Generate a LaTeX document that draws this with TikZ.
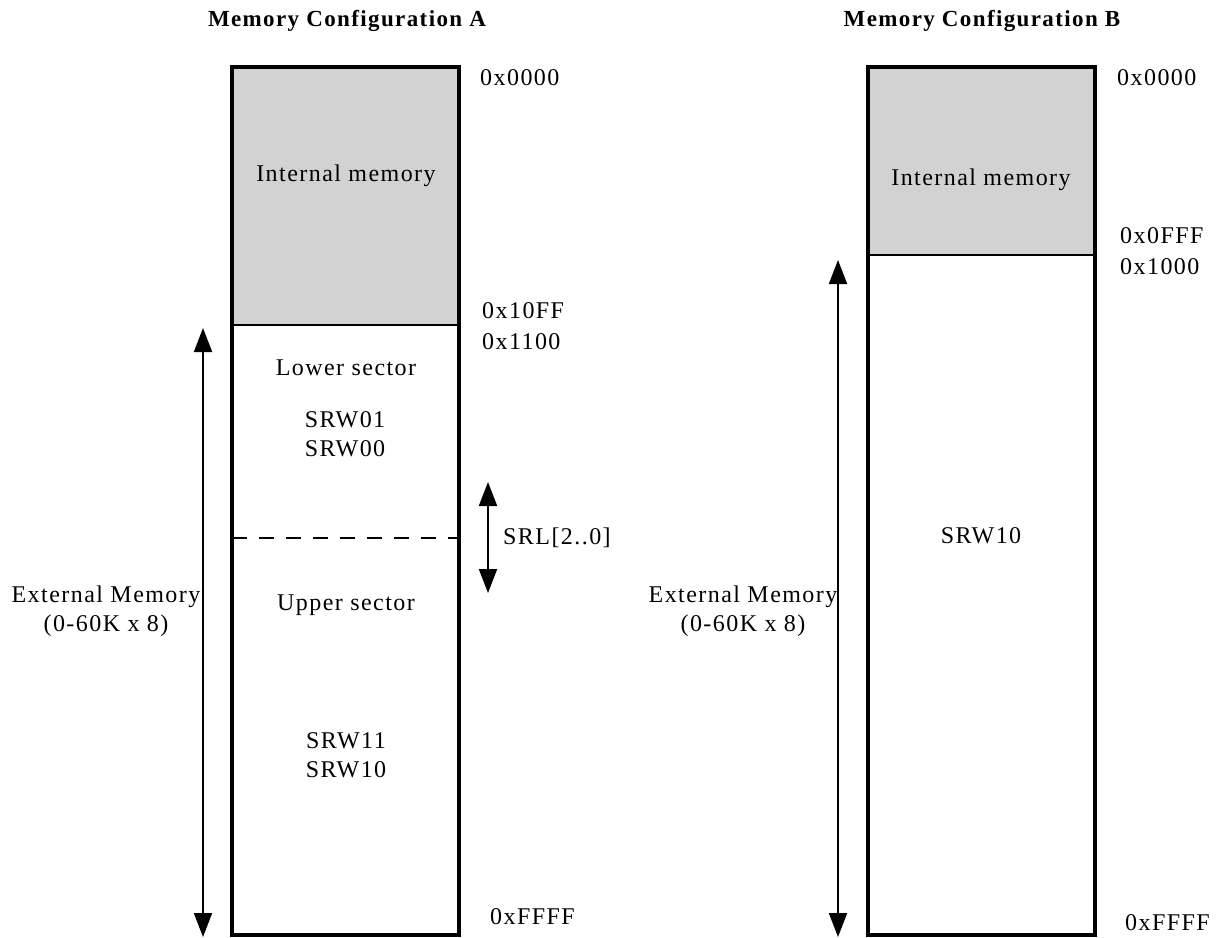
\documentclass[tikz,border=0pt]{standalone}
\usepackage{fontspec}
\setmainfont[LetterSpace=6]{Liberation Serif}
\usetikzlibrary{arrows.meta}
\begin{document}
\begin{tikzpicture}[x=1pt,y=-1pt,
  lbl/.style={font=\fontsize{24}{29}\selectfont, inner sep=0pt},
  ttl/.style={font=\fontsize{23}{28}\selectfont\bfseries, inner sep=0pt},
  addr/.style={lbl, anchor=west},
  boxline/.style={line width=3.5pt},
  sepline/.style={line width=2pt},
  dimarrow/.style={line width=2pt, {Triangle[width=18pt,length=24pt]}-{Triangle[width=18pt,length=24pt]}}]
\useasboundingbox (0,0) rectangle (1223,937);
% Configuration A
\coordinate (A1) at (232,67); \coordinate (A2) at (459,935);
\fill[gray!35] (232,67) rectangle (459,325);
\draw[sepline] (232,325) -- (459,325);
\draw[line width=2.5pt, dash pattern=on 15pt off 12pt] (232,538) -- (459,538);
\draw[boxline] (A1) rectangle (A2);
\node[ttl] (titleA) at (347,21) {Memory Configuration A};
\node[lbl] (intA) at (346,176) {Internal memory};
\node[lbl] (lower) at (346,368) {Lower sector};
\node[lbl, align=center] (srw0) at (345,434) {SRW01\\SRW00};
\node[lbl] (upper) at (346,605) {Upper sector};
\node[lbl, align=center] (srw1) at (346,755) {SRW11\\SRW10};
\node[addr] (a0) at (480,78) {0x0000};
\node[addr] (a10ff) at (482,311) {0x10FF};
\node[addr] (a1100) at (482,342) {0x1100};
\node[addr] (affff) at (490,917) {0xFFFF};
\node[addr] (srl) at (503,538) {SRL[2..0]};
\node[lbl, align=center] (extA) at (106,611) {External Memory\\(0-60K x 8)};
\coordinate (eAt) at (203,328); \coordinate (eAb) at (203,937);
\draw[dimarrow] (eAt) -- (eAb);
\coordinate (sAt) at (488,482); \coordinate (sAb) at (488,593);
\draw[dimarrow] (sAt) -- (sAb);
% Configuration B
\coordinate (B1) at (868,67); \coordinate (B2) at (1095,935);
\fill[gray!35] (868,67) rectangle (1095,255);
\draw[sepline] (868,255) -- (1095,255);
\draw[boxline] (B1) rectangle (B2);
\node[ttl] (titleB) at (982,21) {Memory Configuration B};
\node[lbl] (intB) at (981,180) {Internal memory};
\node[lbl] (srwB) at (981,536) {SRW10};
\node[addr] (b0) at (1117,78) {0x0000};
\node[addr] (b0fff) at (1120,236) {0x0FFF};
\node[addr] (b1000) at (1120,267) {0x1000};
\node[addr] (bffff) at (1125,923) {0xFFFF};
\node[lbl, align=center] (extB) at (743,611) {External Memory\\(0-60K x 8)};
\coordinate (eBt) at (838,260); \coordinate (eBb) at (838,937);
\draw[dimarrow] (eBt) -- (eBb);
\end{tikzpicture}
\end{document}
